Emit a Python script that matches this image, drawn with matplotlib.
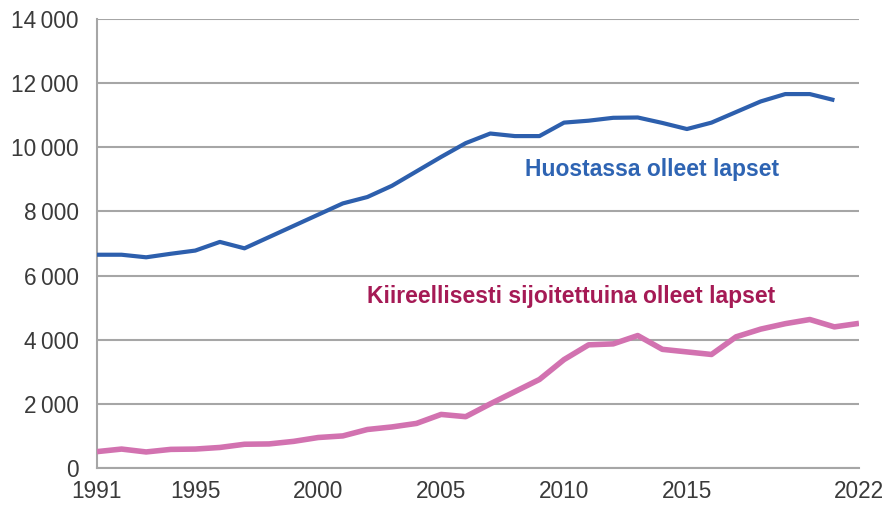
import matplotlib

matplotlib.use("Agg")

import matplotlib.pyplot as plt
from matplotlib.ticker import FuncFormatter

# ------------------------------------------------------------------ data

YEARS = list(range(1991, 2023))

# Huostassa olleet lapset (1991-2021)
HUOSTASSA = [
    6650, 6650, 6570, 6680, 6780, 7050, 6850, 7200, 7550, 7900,
    8250, 8450, 8800, 9250, 9700, 10130, 10430, 10350, 10350, 10770,
    10830, 10920, 10930, 10760, 10570, 10770, 11100, 11430, 11660, 11660,
    11470,
]

# Kiireellisesti sijoitettuina olleet lapset (1991-2022)
KIIREELLISESTI = [
    510, 590, 500, 580, 590, 640, 740, 750, 830, 950,
    1000, 1200, 1280, 1390, 1670, 1600, 2000, 2380, 2760, 3380,
    3840, 3870, 4130, 3700, 3620, 3540, 4090, 4330, 4500, 4630,
    4400, 4510,
]

X_TICKS = [1991, 1995, 2000, 2005, 2010, 2015, 2022]
Y_TICKS = list(range(0, 14001, 2000))

BLUE = "#2D5FAD"
PINK = "#D272B0"
BLUE_TEXT = "#2E64B3"
PINK_TEXT = "#A51A55"
GRID = "#A6A6A6"

plt.rcParams["font.family"] = ["Liberation Sans", "DejaVu Sans"]

fig = plt.figure(figsize=(8.84, 5.05), dpi=100)
ax = fig.add_axes([0.1097, 0.0733, 0.862, 0.889])

ax.plot(YEARS[:len(HUOSTASSA)], HUOSTASSA, color=BLUE, lw=3.0,
        solid_joinstyle="round", solid_capstyle="butt", zorder=3)
ax.plot(YEARS, KIIREELLISESTI, color=PINK, lw=4.0,
        solid_joinstyle="round", solid_capstyle="butt", zorder=3)

ax.text(2008.4, 9300, "Huostassa olleet lapset", color=BLUE_TEXT,
        fontsize=16.5, fontweight="bold", va="center", ha="left")
ax.text(2002.0, 5350, "Kiireellisesti sijoitettuina olleet lapset",
        color=PINK_TEXT, fontsize=16.5, fontweight="bold", va="center", ha="left")

ax.set_xlim(1991, 2022)
ax.set_ylim(0, 14000)
ax.set_xticks(X_TICKS)
ax.set_yticks(Y_TICKS)
ax.yaxis.set_major_formatter(
    FuncFormatter(lambda v, _: f"{int(v):,}".replace(",", "\u2009")))

ax.grid(axis="y", color=GRID, lw=1.5)
ax.set_axisbelow(True)
for side in ("top", "right"):
    ax.spines[side].set_visible(False)
for side in ("left", "bottom"):
    ax.spines[side].set_color(GRID)
    ax.spines[side].set_linewidth(1.5)

ax.tick_params(axis="both", length=0, labelsize=16.3, labelcolor="#3a3a3a")
ax.tick_params(axis="y", pad=13)
ax.tick_params(axis="x", pad=9)

fig.savefig("out.png", dpi=100)
